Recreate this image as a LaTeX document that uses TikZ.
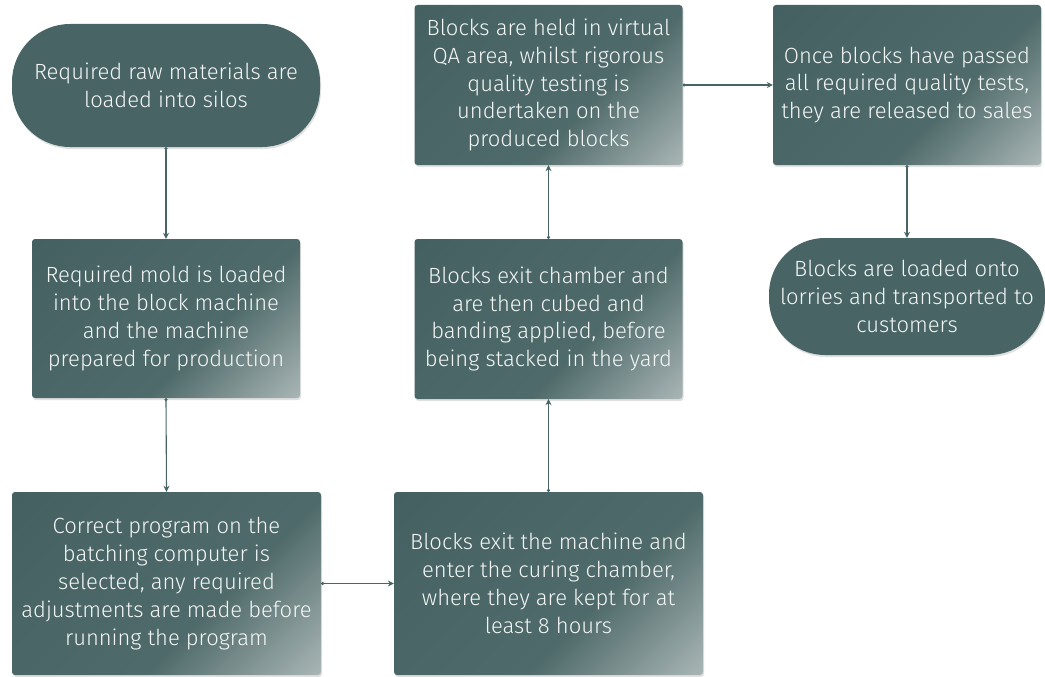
\documentclass[tikz,border=0pt]{standalone}
\usepackage{fontspec}
\setmainfont{Fira Sans}[UprightFont=* Light]
\usetikzlibrary{arrows.meta,shadows}
\definecolor{tealD}{RGB}{72,100,100}
\definecolor{tealL}{RGB}{182,192,192}
\definecolor{txt}{RGB}{244,246,246}
\pgfdeclarehorizontalshading{boxgrad}{100bp}{color(0bp)=(tealD!92!black); color(30bp)=(tealD); color(60bp)=(tealD!96!white); color(89bp)=(tealL); color(100bp)=(tealL)}
\tikzset{
  procbox/.style={rectangle, rounded corners=3pt, shading=boxgrad, shading angle=-45,
    text=txt, align=center, inner sep=0pt,
    font=\fontsize{22}{27.8}\selectfont,
    drop shadow={shadow xshift=1pt, shadow yshift=-2pt, opacity=0.12, fill=black}},
  termbox/.style={rectangle, fill=tealD, text=txt, align=center, inner sep=0pt,
    font=\fontsize{22}{27.8}\selectfont,
    drop shadow={shadow xshift=1pt, shadow yshift=-2pt, opacity=0.12, fill=black}},
  flow/.style={draw=tealD, line width=1.1pt, {Circle[length=3pt]}-{Stealth[length=6pt,width=6pt]}}
}
\begin{document}
\begin{tikzpicture}[x=1pt,y=-1pt]
\useasboundingbox (0,0) rectangle (1045,677);
\node[termbox, rounded corners=58pt, minimum width=308pt, minimum height=123pt] (start) at (166,85.5)
  {Required raw materials are\\loaded into silos};
\node[procbox, minimum width=268pt, minimum height=159pt] (mold) at (166,318.5)
  {Required mold is loaded\\into the block machine\\and the machine\\prepared for production};
\node[procbox, minimum width=309pt, minimum height=183pt] (prog) at (166.5,583.5)
  {Correct program on the\\batching computer is\\selected, any required\\adjustments are made before\\running the program};
\node[procbox, minimum width=309pt, minimum height=183pt] (exitm) at (548.5,583.5)
  {Blocks exit the machine and\\enter the curing chamber,\\where they are kept for at\\least 8 hours};
\node[procbox, minimum width=268pt, minimum height=160pt] (exitc) at (548.5,319)
  {Blocks exit chamber and\\are then cubed and\\banding applied, before\\being stacked in the yard};
\node[procbox, minimum width=268pt, minimum height=160pt] (held) at (548.5,85)
  {Blocks are held in virtual\\QA area, whilst rigorous\\quality testing is\\undertaken on the\\produced blocks};
\node[procbox, minimum width=268pt, minimum height=160pt] (once) at (907,85)
  {Once blocks have passed\\all required quality tests,\\they are released to sales};
\node[termbox, rounded corners=56pt, minimum width=276pt, minimum height=117pt] (end) at (907,296.5)
  {Blocks are loaded onto\\lorries and transported to\\customers};
\draw[flow] (start.south) -- (mold.north);
\draw[flow] (mold.south) -- (prog.north);
\draw[flow] (prog.east) -- (exitm.west);
\draw[flow] (exitm.north) -- (exitc.south);
\draw[flow] (exitc.north) -- (held.south);
\draw[flow] (held.east) -- (once.west);
\draw[flow] (once.south) -- (end.north);
\end{tikzpicture}
\end{document}
